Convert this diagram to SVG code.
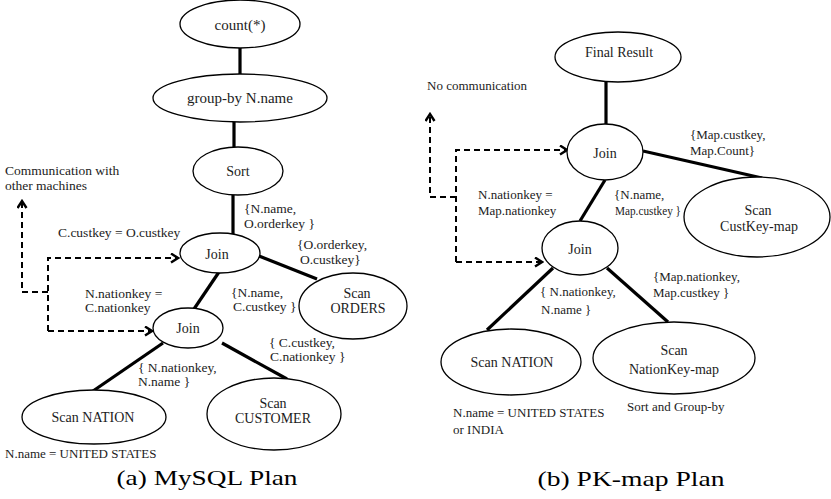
<svg xmlns="http://www.w3.org/2000/svg" width="831" height="499" viewBox="0 0 831 499">
  <defs>
    <marker id="chev" markerUnits="userSpaceOnUse" markerWidth="10" markerHeight="12" refX="8" refY="5" orient="auto">
      <path d="M1,0.5 L8,5 L1,9.5" fill="none" stroke="#000" stroke-width="2.4"/>
    </marker>
  </defs>
  <style>
    .node ellipse { fill: #fff; stroke: #000; stroke-width: 1.3; }
    .edge { stroke: #000; stroke-width: 3.2; fill: none; }
    .dash { stroke: #000; stroke-width: 2; fill: none; stroke-dasharray: 6 4; }
    text { font-family: "Liberation Serif", "Times New Roman", serif; fill: #1c1c1c; }
    .nl { font-size: 14px; text-anchor: middle; }
    .nb { font-size: 15px; text-anchor: middle; }
    .la { font-size: 13.5px; }
    .ra { font-size: 13px; }
    .rn { font-size: 14px; text-anchor: middle; }
    .cap { font-size: 21px; text-anchor: middle; fill: #000; }
  </style>

  <!-- connectors -->
  <g id="connectors">
    <!-- MySQL plan tree edges -->
    <line class="edge" x1="240" y1="48" x2="240" y2="74"/>
    <line class="edge" x1="234" y1="122" x2="234" y2="147"/>
    <line class="edge" x1="233" y1="195" x2="233" y2="234"/>
    <line class="edge" x1="259" y1="256" x2="317" y2="279"/>
    <line class="edge" x1="219" y1="272" x2="194" y2="309"/>
    <line class="edge" x1="163" y1="343" x2="93" y2="391"/>
    <line class="edge" x1="222" y1="343" x2="287" y2="379"/>
    <!-- MySQL plan communication arrows -->
    <path class="dash" d="M48,292 L22,292 L22,201" marker-end="url(#chev)"/>
    <path class="dash" d="M48,331 L48,258 L178,258" marker-end="url(#chev)"/>
    <path class="dash" d="M48,331 L152,331" marker-end="url(#chev)"/>

    <!-- PK-map plan tree edges -->
    <line class="edge" x1="606" y1="82" x2="606" y2="124"/>
    <line class="edge" x1="643" y1="151" x2="762" y2="178" stroke-width="4"/>
    <line class="edge" x1="605" y1="180" x2="580" y2="221"/>
    <line class="edge" x1="553" y1="268" x2="487" y2="330"/>
    <line class="edge" x1="607" y1="268" x2="668" y2="322"/>
    <!-- PK-map plan communication arrows -->
    <path class="dash" d="M456,197 L430,197 L430,114" marker-end="url(#chev)"/>
    <path class="dash" d="M456,262 L456,150 L567,150" marker-end="url(#chev)"/>
    <path class="dash" d="M456,262 L542,262" marker-end="url(#chev)"/>
  </g>

  <!-- MySQL plan nodes -->
  <g id="a-count" class="node">
    <ellipse cx="240" cy="24" rx="60" ry="24"/>
    <text class="nb" x="240" y="30">count(*)</text>
  </g>
  <g id="a-groupby" class="node">
    <ellipse cx="240" cy="98" rx="87" ry="24"/>
    <text class="nb" x="240" y="103">group-by N.name</text>
  </g>
  <g id="a-sort" class="node">
    <ellipse cx="238" cy="171" rx="45" ry="24"/>
    <text class="nl" x="238" y="176">Sort</text>
  </g>
  <g id="a-join1" class="node">
    <ellipse cx="220" cy="253" rx="40" ry="20"/>
    <text class="nl" x="217" y="259">Join</text>
  </g>
  <g id="a-join2" class="node">
    <ellipse cx="188" cy="328" rx="35" ry="20"/>
    <text class="nl" x="188" y="333">Join</text>
  </g>
  <g id="a-orders" class="node">
    <ellipse cx="353" cy="306" rx="54" ry="33"/>
    <text class="nl" x="357" y="298">Scan</text>
    <text class="nl" x="358" y="313">ORDERS</text>
  </g>
  <g id="a-nation" class="node">
    <ellipse cx="94" cy="417" rx="72" ry="27"/>
    <text class="nl" x="93" y="422">Scan NATION</text>
  </g>
  <g id="a-customer" class="node">
    <ellipse cx="274" cy="414" rx="67" ry="36"/>
    <text class="nl" x="273" y="408">Scan</text>
    <text class="nl" x="273" y="423">CUSTOMER</text>
  </g>

  <!-- MySQL plan annotations -->
  <g id="a-labels" class="la">
    <text x="5" y="175">Communication with</text>
    <text x="5" y="190">other machines</text>
    <text x="244" y="213">{N.name,</text>
    <text x="244" y="228">O.orderkey }</text>
    <text x="58" y="237">C.custkey = O.custkey</text>
    <text x="297" y="249">{O.orderkey,</text>
    <text x="300" y="264">O.custkey}</text>
    <text x="85" y="298">N.nationkey =</text>
    <text x="85" y="312">C.nationkey</text>
    <text x="231" y="297">{N.name,</text>
    <text x="233" y="311">C.custkey }</text>
    <text x="269" y="347">{ C.custkey,</text>
    <text x="270" y="361">C.nationkey }</text>
    <text x="138" y="372">{ N.nationkey,</text>
    <text x="138" y="386">N.name }</text>
    <text x="5" y="458" style="font-size:13px">N.name = UNITED STATES</text>
  </g>

  <!-- PK-map plan nodes -->
  <g id="b-final" class="node">
    <ellipse cx="618" cy="57" rx="63" ry="25"/>
    <text class="rn" x="619" y="57">Final Result</text>
  </g>
  <g id="b-join1" class="node">
    <ellipse cx="605" cy="152" rx="38" ry="28"/>
    <text class="rn" x="605" y="158">Join</text>
  </g>
  <g id="b-custkeymap" class="node">
    <ellipse cx="757" cy="217" rx="73" ry="40"/>
    <text class="rn" x="758" y="215">Scan</text>
    <text class="rn" x="759" y="231">CustKey-map</text>
  </g>
  <g id="b-join2" class="node">
    <ellipse cx="580" cy="248" rx="38" ry="27"/>
    <text class="rn" x="580" y="254">Join</text>
  </g>
  <g id="b-nation" class="node">
    <ellipse cx="511" cy="362" rx="70" ry="33"/>
    <text class="rn" x="512" y="367">Scan NATION</text>
  </g>
  <g id="b-nationkeymap" class="node">
    <ellipse cx="674" cy="358" rx="81" ry="36"/>
    <text class="rn" x="674" y="355">Scan</text>
    <text class="rn" x="674" y="374">NationKey-map</text>
  </g>

  <!-- PK-map plan annotations -->
  <g id="b-labels" class="ra">
    <text x="427" y="90">No communication</text>
    <text x="690" y="139">{Map.custkey,</text>
    <text x="690" y="155">Map.Count}</text>
    <text x="478" y="199">N.nationkey =</text>
    <text x="478" y="215">Map.nationkey</text>
    <text x="614" y="199">{N.name,</text>
    <text x="615" y="215" textLength="66" lengthAdjust="spacingAndGlyphs">Map.custkey }</text>
    <text x="653" y="281">{Map.nationkey,</text>
    <text x="653" y="297">Map.custkey }</text>
    <text x="540" y="296">{ N.nationkey,</text>
    <text x="541" y="314">N.name }</text>
    <text x="453" y="417">N.name = UNITED STATES</text>
    <text x="453" y="434">or INDIA</text>
    <text x="627" y="411">Sort and Group-by</text>
  </g>

  <!-- captions -->
  <text class="cap" x="207" y="485" textLength="181" lengthAdjust="spacingAndGlyphs">(a) MySQL Plan</text>
  <text class="cap" x="631" y="486" textLength="187" lengthAdjust="spacingAndGlyphs">(b) PK-map Plan</text>
</svg>
